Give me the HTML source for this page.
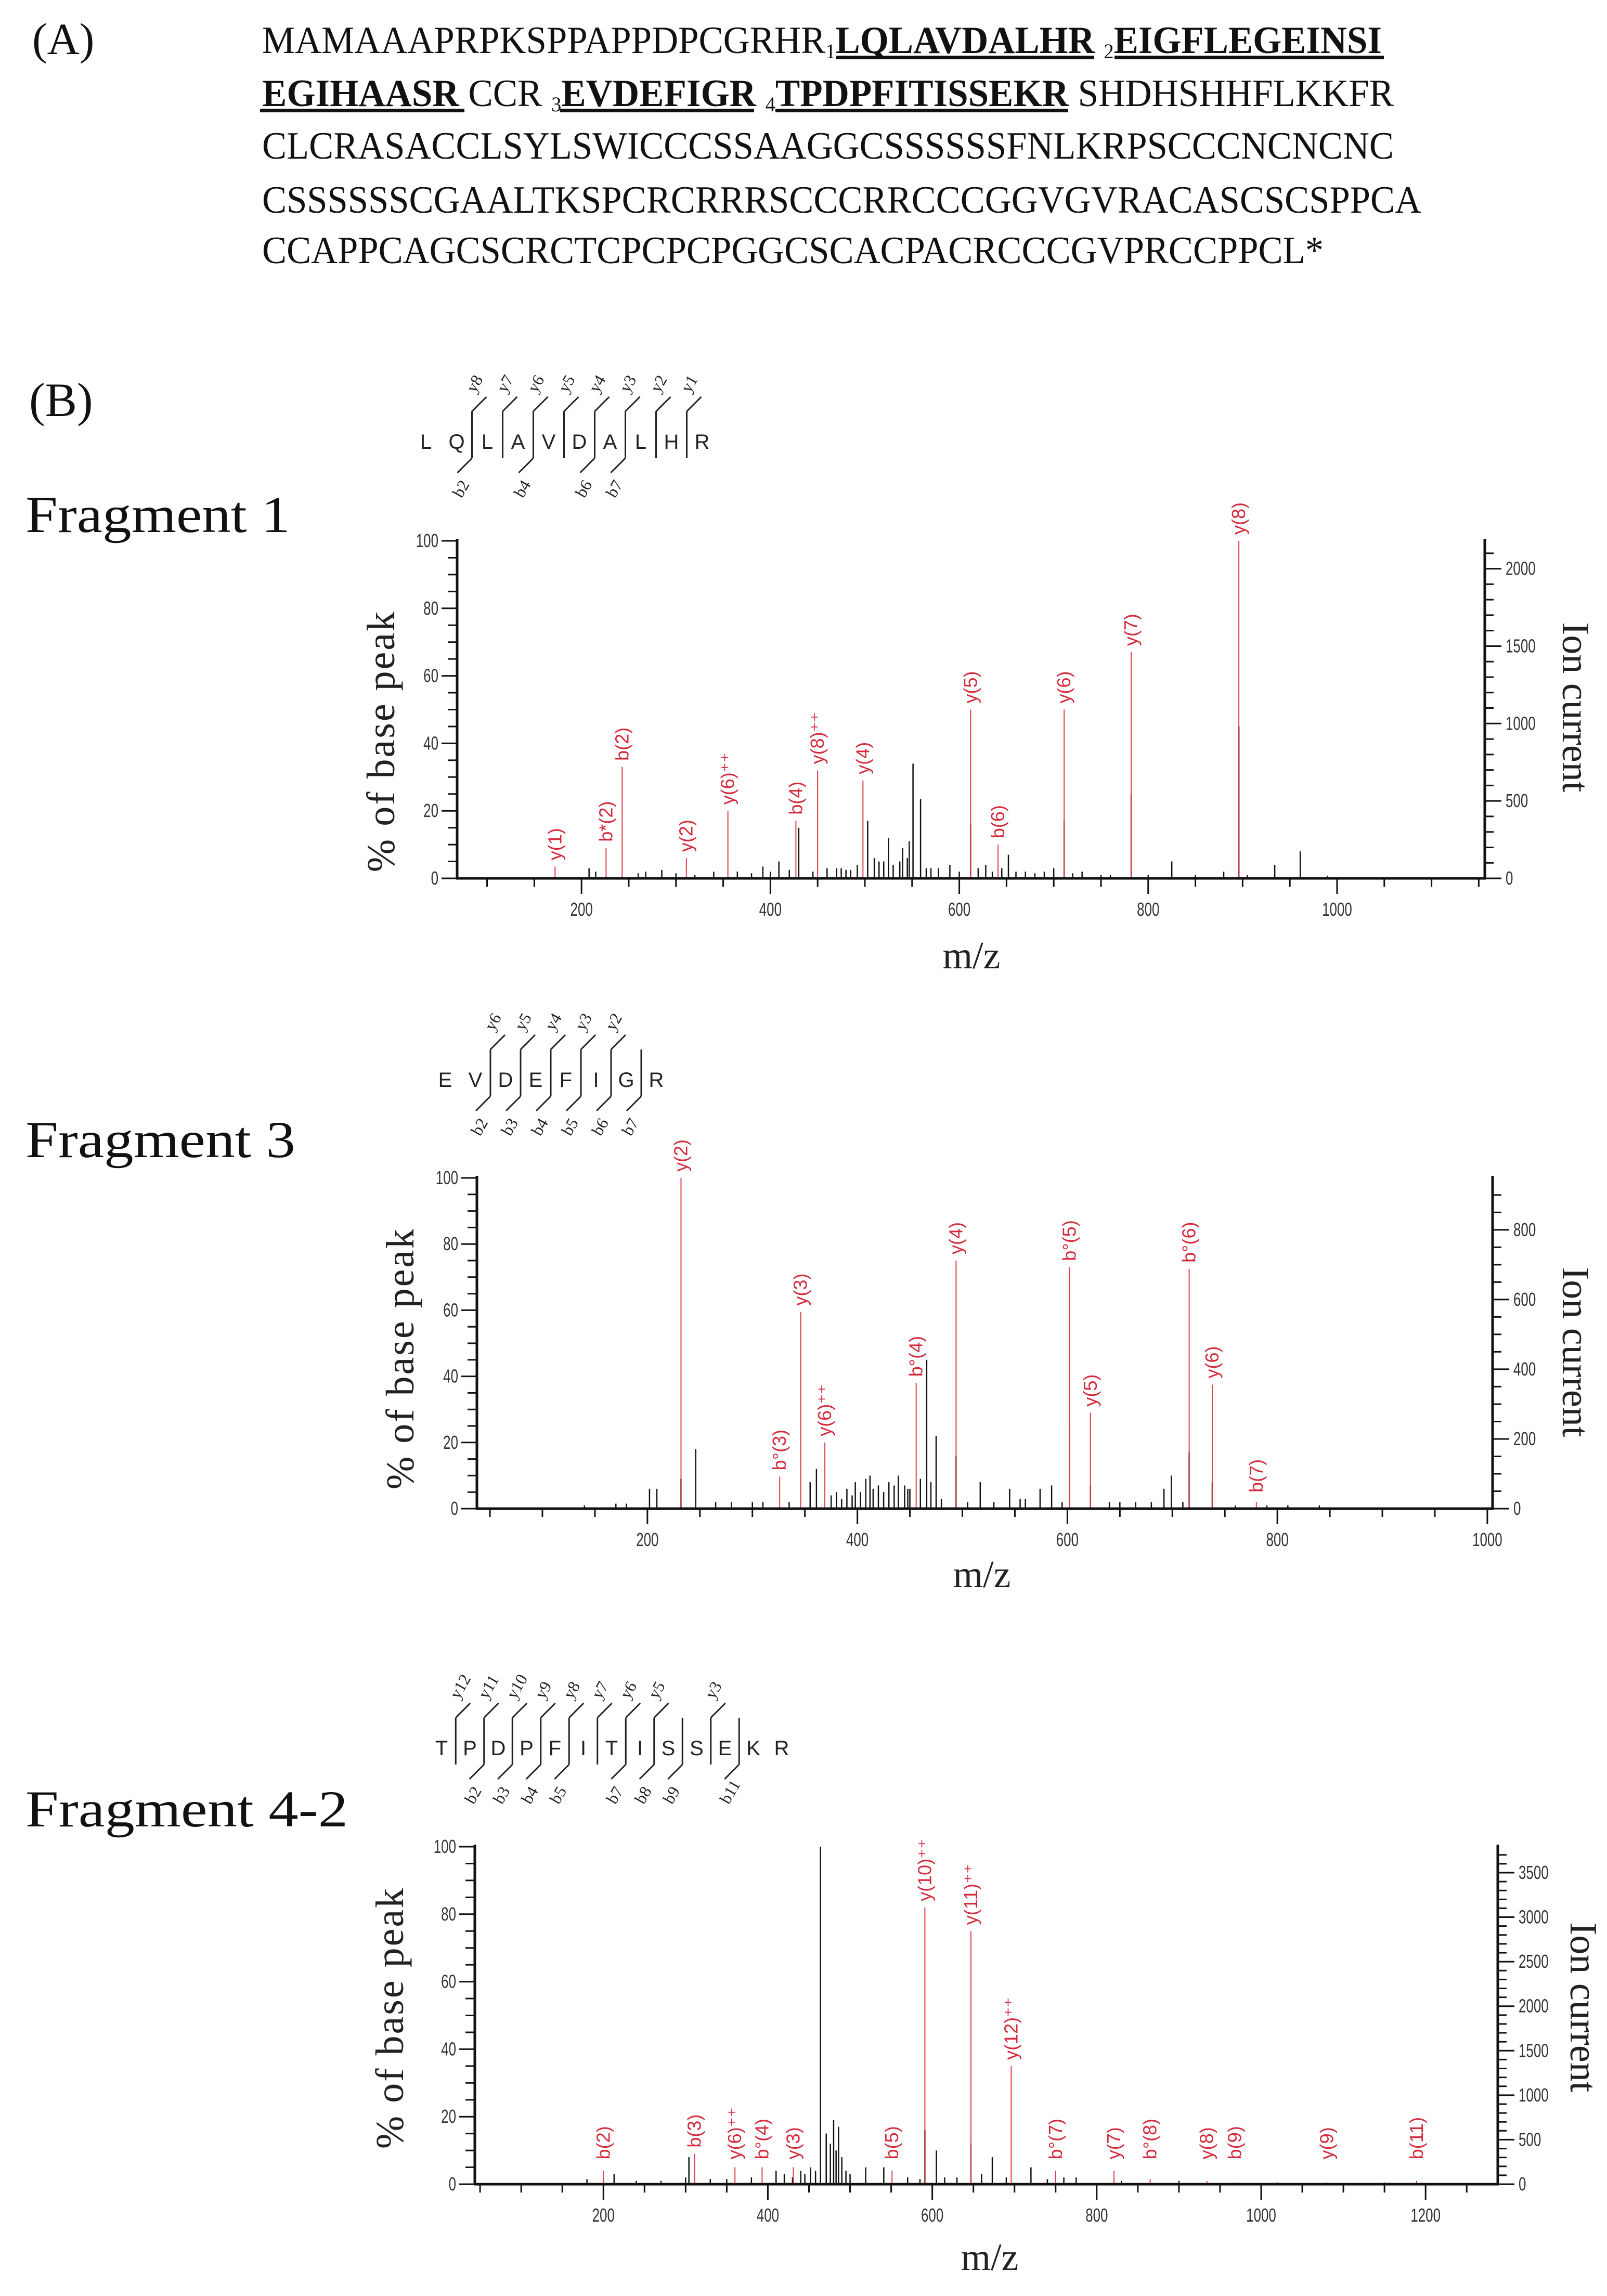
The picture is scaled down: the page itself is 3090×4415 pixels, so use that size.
<!DOCTYPE html>
<html><head><meta charset="utf-8">
<style>
html,body{margin:0;padding:0;background:#fff;}
svg{display:block;}
.serif{font-family:"Liberation Serif",serif;}
.sans{font-family:"Liberation Sans",sans-serif;}
</style></head>
<body>
<svg id="fig" xmlns="http://www.w3.org/2000/svg" width="3090" height="4415" viewBox="0 0 3090 4415">
<rect width="3090" height="4415" fill="#fff"/>
<g class="serif" fill="#111">
  <text x="62" y="104" font-size="86">(A)</text>
  <text x="504" y="102" font-size="74" textLength="2153" lengthAdjust="spacingAndGlyphs">MAMAAAPRPKSPPAPPDPCGRHR<tspan font-size="40" dy="10">1</tspan><tspan font-weight="bold" dy="-10">LQLAVDALHR</tspan> <tspan font-size="40" dy="10">2</tspan><tspan font-weight="bold" dy="-10">EIGFLEGEINSI</tspan></text>
  <text x="504" y="204" font-size="74" textLength="2176" lengthAdjust="spacingAndGlyphs"><tspan font-weight="bold">EGIHAASR</tspan> CCR <tspan font-size="40" dy="10">3</tspan><tspan font-weight="bold" dy="-10">EVDEFIGR</tspan> <tspan font-size="40" dy="10">4</tspan><tspan font-weight="bold" dy="-10">TPDPFITISSEKR</tspan> SHDHSHHFLKKFR</text>
  <text x="504" y="305" font-size="74" textLength="2176" lengthAdjust="spacingAndGlyphs">CLCRASACCLSYLSWICCCSSAAGGCSSSSSSFNLKRPSCCCNCNCNC</text>
  <text x="504" y="409" font-size="74" textLength="2229" lengthAdjust="spacingAndGlyphs">CSSSSSSCGAALTKSPCRCRRRSCCCRRCCCGGVGVRACASCSCSPPCA</text>
  <text x="504" y="506" font-size="74" textLength="2041" lengthAdjust="spacingAndGlyphs">CCAPPCAGCSCRCTCPCPCPGGCSCACPACRCCCGVPRCCPPCL*</text>
  <rect x="1607" y="107" width="497" height="7"/>
  <rect x="2143" y="107" width="518" height="7"/>
  <rect x="500" y="209" width="393" height="7"/>
  <rect x="1077" y="209" width="373" height="7"/>
  <rect x="1491" y="209" width="563" height="7"/>
</g>
<g class="serif" fill="#111">
  <text x="56" y="800" font-size="92">(B)</text>
  <text x="49" y="1023" font-size="100" textLength="509" lengthAdjust="spacingAndGlyphs">Fragment 1</text>
  <text x="49" y="2225" font-size="100" textLength="519" lengthAdjust="spacingAndGlyphs">Fragment 3</text>
  <text x="49" y="3512" font-size="100" textLength="620" lengthAdjust="spacingAndGlyphs">Fragment 4-2</text>
</g>
<g id="charts"></g>
</svg>
<script>
// ---- Chart 1 (Fragment 1) data ----
const c1LabelNames = ["y(1)","b*(2)","b(2)","y(2)","y(6)⁺⁺","b(4)","y(8)⁺⁺","y(4)","y(5)","b(6)","y(6)","y(7)","y(8)"];
const c1LabelMz = [172,226,243,311,355,427,450,498,612,641,711,782,896];
const c1LabelPct = [3.5,9,33,6,20,17,32,29,50,10,50,67,100];
const c1OtherMz = [896,782,711,612,551,559,503,525,540,547,961,934,825,652,208,215,268,285,340,392,409,475,485,510,515,530,537,565,578,590,628,660,690,700,730,750,880,430,470,260,300,320,365,380,400,420,445,460,480,492,520,545,570,600,620,635,645,670,680,720,760,800,850,905,990];
const c1OtherPct = [45,25,17,16,34,23.5,17,12,9,11,8,4,5,7,3,2,2,2.5,2,3.5,5,3,2.5,6,5,4,5,3,3,4,4,2,2,3,2,1,2,15,3,1.5,1.5,1,2,1.5,2,2.5,2,3,2.5,4,5,6,3,2,3,2,3,2,1.5,1.5,1,1,1,1,0.8];
// ---- Chart 3 (Fragment 3) data ----
const c3LabelNames = ["y(2)","b°(3)","y(3)","y(6)⁺⁺","b°(4)","y(4)","b°(5)","y(5)","b°(6)","y(6)","b(7)"];
const c3LabelMz = [232,326,346,369,456,494,602,622,716,738,780];
const c3LabelPct = [100,9.7,59.5,20,38,75,73,29,72.5,37.5,2];
const c3OtherMz = [232,494,602,716,738,622,466,475,246,361,699,517,585,202,209,412,408,439,398,545,574,692,355,380,390,420,430,445,450,460,265,280,300,170,180,140,650,665,560,790,840,375,385,395,403,415,425,435,448,470,310,335,480,505,530,555,595,640,680,710,760,810];
const c3OtherPct = [9,16,25,17,8,7,45,22,18,12,10,8,7,6,6,10,9,10,8,6,6,6,8,5,6,7,8,7,6,9,2,2,2,1.5,1.5,1,2,2,3,1,1,4,3,4,5,6,5,7,6,8,2,2,3,2,2,3,2,2,2,2,1,1];
// ---- Chart 4 (Fragment 4-2) data ----
const c4LabelNames = ["b(2)","b(3)","y(6)⁺⁺","b°(4)","y(3)","b(5)","y(10)⁺⁺","y(11)⁺⁺","y(12)⁺⁺","b°(7)","y(7)","b°(8)","y(8)","b(9)","y(9)","b(11)"];
const c4LabelMz = [200,311,360,393,431,551,591,647,696,750,821,865,934,968,1080,1189];
const c4LabelPct = [4,9,5,5,5,4,82,75,35,4,4,1.5,1,0.5,0.5,1];
const c4OtherMz = [464,480,486,471,591,647,605,673,720,519,541,304,213,452,440,420,410,300,180,240,495,500,760,775,830,900,1020,1150,660,615,476,483,490,458,445,430,380,350,330,270,570,585,630,690,740];
const c4OtherPct = [100,19,17,15,16,12,10,8,5,5,5,8,3,5,4,3,4,2,1.5,1,4,3,2,2,1,1,0.5,0.5,3,2,12,10,8,4,3,2,2,1.5,1.5,1,2,1.5,2,2,1.5];

const NS = "http://www.w3.org/2000/svg";
const root = document.getElementById('charts');
function el(tag, attrs, parent){ const e=document.createElementNS(NS,tag); for(const k in attrs) e.setAttribute(k,attrs[k]); (parent||root).appendChild(e); return e; }

function drawChart(cfg, names, lMz, lPct, oMz, oPct, id){
  const g = el('g',{});
  
  
  const xs = mz => cfg.left + (mz - cfg.mzMin) * (cfg.right - cfg.left) / (cfg.mzMax - cfg.mzMin);
  const ys = p => cfg.bottom - p * (cfg.bottom - cfg.top) / 100;
  const yi = v => cfg.bottom - v / cfg.ionMax * (cfg.bottom - cfg.top);
  oMz.forEach((m,i)=>{
    const l = el('line',{x1:xs(m),x2:xs(m),y1:cfg.bottom,y2:ys(oPct[i]),stroke:'#111','stroke-width':2.5},g);
    
    
  });
  lMz.forEach((m,i)=>{
    const x = xs(m);
    const l = el('line',{x1:x,x2:x,y1:cfg.bottom,y2:ys(lPct[i]),stroke:'#e23b4a','stroke-width':2},g);
    
    
    const ty = ys(Math.max(lPct[i], cfg.minLab)) - 12;
    const t = el('text',{x:x+12,y:ty,transform:`rotate(-90 ${x+12} ${ty})`,'font-size':36,fill:'#d42a3c','font-family':'"Liberation Sans",sans-serif'},g);
    t.textContent = names[i];
    
    
  });
  const ax = el('g',{stroke:'#111'},g);
  
  
  el('line',{x1:cfg.left-2,x2:cfg.right+2,y1:cfg.bottom,y2:cfg.bottom,'stroke-width':5},ax);
  el('line',{x1:cfg.left,x2:cfg.left,y1:cfg.top-4,y2:cfg.bottom,'stroke-width':5},ax);
  el('line',{x1:cfg.right,x2:cfg.right,y1:cfg.top-4,y2:cfg.bottom,'stroke-width':5},ax);
  const lab = el('g',{'font-family':'"Liberation Sans",sans-serif','font-size':36,fill:'#333'},g);
  const sx = 0.72;
  for(let p=0;p<=100;p+=5){
    const y=ys(p), major = p%20===0;
    el('line',{x1:cfg.left-(major?30:18),x2:cfg.left,y1:y,y2:y,'stroke-width':3},ax);
    if(major){ const t=el('text',{x:cfg.left-36,y:y+12,'text-anchor':'end'},lab); t.setAttribute('transform',`translate(${(cfg.left-36)*(1-sx)} 0) scale(${sx} 1)`); t.textContent=p; }
  }
  for(let v=0; v<=cfg.ionMax; v+=cfg.ionMinor){
    const y=yi(v), major = v%cfg.ionStep===0;
    el('line',{x1:cfg.right,x2:cfg.right+(major?32:17),y1:y,y2:y,'stroke-width':3},ax);
    if(major){ const t=el('text',{x:cfg.right+40,y:y+12,'text-anchor':'start'},lab); t.setAttribute('transform',`translate(${(cfg.right+40)*(1-sx)} 0) scale(${sx} 1)`); t.textContent=v; }
  }
  for(let m=50; m<=cfg.mzMax; m+=50){
    if(m<cfg.mzMin) continue;
    const x=xs(m), major = m%200===0;
    el('line',{x1:x,x2:x,y1:cfg.bottom,y2:cfg.bottom+(major?30:16),'stroke-width':3},ax);
    if(major){ const t=el('text',{x:x,y:cfg.bottom+72,'text-anchor':'middle'},lab); t.setAttribute('transform',`translate(${x*(1-sx)} 0) scale(${sx} 1)`); t.textContent=m; }
  }
  const yt = el('text',{x:cfg.yTitleX,y:cfg.yTitleY,'text-anchor':'middle','font-size':76,'font-family':'"Liberation Serif",serif',fill:'#222',transform:`rotate(-90 ${cfg.yTitleX} ${cfg.yTitleY})`,'letter-spacing':3},g);
  yt.textContent='% of base peak';
  
  
  const it = el('text',{x:cfg.ionX,y:cfg.ionY,'text-anchor':'middle','font-size':74,'font-family':'"Liberation Serif",serif',fill:'#222',transform:`rotate(90 ${cfg.ionX} ${cfg.ionY})`},g);
  it.textContent='Ion current';
  
  
  const xt = el('text',{x:cfg.mzX,y:cfg.mzY,'text-anchor':'middle','font-size':74,'font-family':'"Liberation Serif",serif',fill:'#222'},g);
  xt.textContent='m/z';
  
  
}

function drawPeptide(p, id){
  const g = el('g',{stroke:'#222','stroke-width':3,fill:'none'});
  
  
  p.letters.forEach((c,i)=>{
    const t=el('text',{x:p.x0+i*p.dx,y:p.base,'text-anchor':'middle','font-size':40,fill:'#222',stroke:'none','font-family':'"Liberation Sans",sans-serif'},g);
    t.textContent=c;
  });
  p.cuts.forEach(cu=>{
    const x = p.x0 + (cu.after-0.5)*p.dx;
    const top=p.base-72, bot=p.base+18;
    el('line',{x1:x,x2:x,y1:top,y2:bot},g);
    if(cu.y){ el('line',{x1:x,y1:top,x2:x+28,y2:top-28},g);
      const lx=x+6, ly=top-34;
      const t=el('text',{x:lx,y:ly,'font-size':32,fill:'#222',stroke:'none','font-family':'"Liberation Serif",serif',transform:`rotate(-60 ${lx} ${ly})`},g); t.textContent=cu.y; }
    if(cu.b){ el('line',{x1:x,y1:bot,x2:x-28,y2:bot+28},g);
      const lx=x-20, ly=bot+78;
      const t=el('text',{x:lx,y:ly,'font-size':32,fill:'#222',stroke:'none','font-family':'"Liberation Serif",serif',transform:`rotate(-60 ${lx} ${ly})`},g); t.textContent=cu.b; }
  });
}

drawPeptide({letters:"LQLAVDALHR".split(''),x0:819,dx:59,base:863,
  cuts:[{after:2,y:'y8',b:'b2'},{after:3,y:'y7'},{after:4,y:'y6',b:'b4'},{after:5,y:'y5'},{after:6,y:'y4',b:'b6'},{after:7,y:'y3',b:'b7'},{after:8,y:'y2'},{after:9,y:'y1'}]},'fragment-1');
drawPeptide({letters:"EVDEFIGR".split(''),x0:856,dx:58,base:2090,
  cuts:[{after:2,y:'y6',b:'b2'},{after:3,y:'y5',b:'b3'},{after:4,y:'y4',b:'b4'},{after:5,y:'y3',b:'b5'},{after:6,y:'y2',b:'b6'},{after:7,b:'b7'}]},'fragment-3');
drawPeptide({letters:"TPDPFITISSEKR".split(''),x0:849,dx:54.5,base:3375,
  cuts:[{after:1,y:'y12'},{after:2,y:'y11',b:'b2'},{after:3,y:'y10',b:'b3'},{after:4,y:'y9',b:'b4'},{after:5,y:'y8',b:'b5'},{after:6,y:'y7'},{after:7,y:'y6',b:'b7'},{after:8,y:'y5',b:'b8'},{after:9,b:'b9'},{after:10,y:'y3'},{after:11,b:'b11'}]},'fragment-4-2');

drawChart({left:879,right:2855,mzMin:68.3,mzMax:1156.4,top:1040,bottom:1689,ionMax:2180,ionStep:500,ionMinor:100,minLab:3,
  yTitleX:758,yTitleY:1425,ionX:3005,ionY:1360,mzX:1868,mzY:1862},c1LabelNames,c1LabelMz,c1LabelPct,c1OtherMz,c1OtherPct,'fragment-1');
drawChart({left:917,right:2870,mzMin:37.6,mzMax:1005,top:2265,bottom:2901,ionMax:949,ionStep:200,ionMinor:50,minLab:3,
  yTitleX:795,yTitleY:2612,ionX:3005,ionY:2600,mzX:1888,mzY:3052},c3LabelNames,c3LabelMz,c3LabelPct,c3OtherMz,c3OtherPct,'fragment-3');
drawChart({left:913,right:2880,mzMin:43.6,mzMax:1287.8,top:3551,bottom:4200,ionMax:3792,ionStep:500,ionMinor:100,minLab:5.5,
  yTitleX:775,yTitleY:3880,ionX:3020,ionY:3860,mzX:1903,mzY:4365},c4LabelNames,c4LabelMz,c4LabelPct,c4OtherMz,c4OtherPct,'fragment-4-2');
</script>
</body></html>
